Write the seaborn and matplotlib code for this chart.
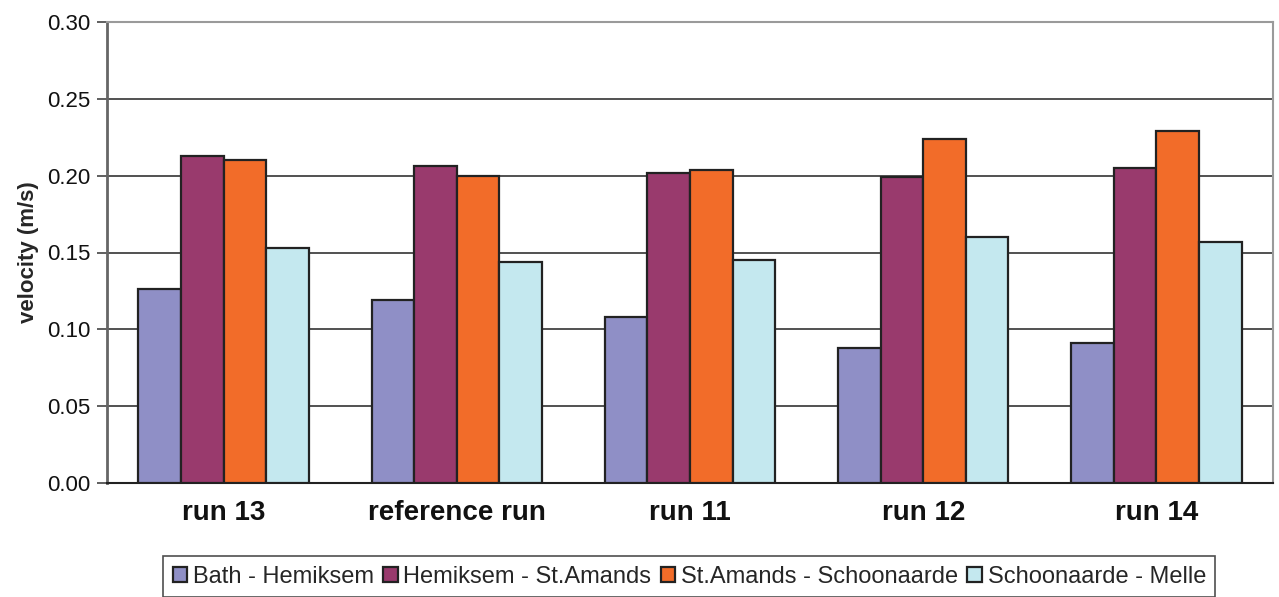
import numpy as np
import pandas as pd
import matplotlib
matplotlib.use("Agg")
import matplotlib.pyplot as plt
import seaborn as sns

runs = ["run 13", "reference run", "run 11", "run 12", "run 14"]
reaches = ["Bath - Hemiksem", "Hemiksem - St.Amands",
           "St.Amands - Schoonaarde", "Schoonaarde - Melle"]
bath_hemiksem = [0.126, 0.119, 0.108, 0.088, 0.091]
hemiksem_stamands = [0.213, 0.206, 0.202, 0.199, 0.205]
stamands_schoonaarde = [0.210, 0.200, 0.204, 0.224, 0.229]
schoonaarde_melle = [0.153, 0.144, 0.145, 0.160, 0.157]
colors = ["#8F8FC6", "#993A6D", "#F26C29", "#C4E8EF"]
yticks = [0.00, 0.05, 0.10, 0.15, 0.20, 0.25, 0.30]

series = [bath_hemiksem, hemiksem_stamands, stamands_schoonaarde, schoonaarde_melle]
df = pd.DataFrame({
    "run": [r for s in series for r in runs],
    "reach": [reaches[i] for i, s in enumerate(series) for _ in runs],
    "velocity": [v for s in series for v in s],
})

sns.set_theme(style="white")
plt.rcParams["font.family"] = ["Liberation Sans", "DejaVu Sans"]

fig = plt.figure(figsize=(12.79, 5.97), dpi=100)
ax = fig.add_axes([107 / 1279, 114 / 597, 1166 / 1279, 461 / 597])

sns.barplot(data=df, x="run", y="velocity", hue="reach", order=runs,
            hue_order=reaches, palette=colors, width=0.73,
            edgecolor="#222222", linewidth=1.6, saturation=1,
            errorbar=None, ax=ax, zorder=3)

ax.set_ylim(0, 0.30)
ax.set_xlim(-0.5, len(runs) - 0.5)
ax.set_yticks(yticks)
ax.set_yticklabels([f"{t:.2f}" for t in yticks], fontsize=16, color="#111111")
ax.yaxis.grid(True, color="#333333", linewidth=1.2, zorder=0)
ax.xaxis.grid(False)
ax.set_axisbelow(True)

# category labels centred, with separator ticks between the groups
ax.set_xticks(range(len(runs)))
ax.set_xticklabels(runs, fontsize=20, fontweight="bold", color="#111111")
ax.tick_params(axis="x", which="major", length=0, pad=12)
ax.set_xticks(np.arange(-0.5, len(runs)), minor=True)
ax.tick_params(axis="x", which="minor", length=7, width=1.2, color="#333333",
               direction="out")
ax.tick_params(axis="y", length=7, width=1.2, color="#444444", direction="out",
               left=True, pad=5)

ax.set_xlabel("")
ax.set_ylabel("velocity (m/s)", fontsize=16, fontweight="bold", labelpad=6)

for side in ["top", "right"]:
    ax.spines[side].set_color("#9a9a9a")
    ax.spines[side].set_linewidth(1.5)
ax.spines["left"].set_color("#666666")
ax.spines["left"].set_linewidth(2)
ax.spines["bottom"].set_color("#222222")
ax.spines["bottom"].set_linewidth(1.5)

handles, labels = ax.get_legend_handles_labels()
ax.get_legend().remove()
leg = fig.legend(handles, labels, loc="upper center",
                 bbox_to_anchor=(0.539, 0.068), ncol=4, fontsize=17,
                 frameon=True, fancybox=False, edgecolor="#222222",
                 handlelength=0.6, handleheight=0.6, handletextpad=0.25,
                 columnspacing=0.4, borderpad=0.4, borderaxespad=0)
leg.get_frame().set_linewidth(1.2)

fig.savefig("out.png", dpi=100)
